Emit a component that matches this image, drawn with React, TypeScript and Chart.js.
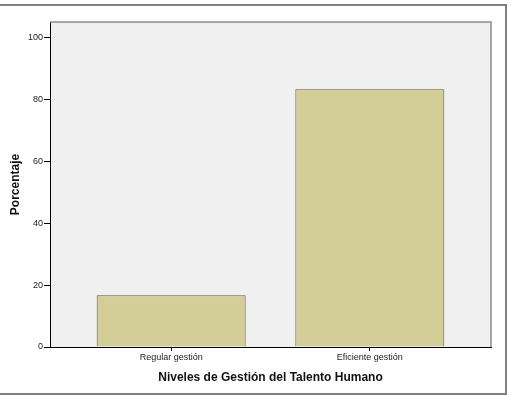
import React, { useEffect, useRef } from "react";
import { Chart, registerables } from "chart.js";

Chart.register(...registerables);

const categories = ["Regular gestión", "Eficiente gestión"];
const percentages = [16.7, 83.3];
const yTicks = [0, 20, 40, 60, 80, 100];
const xTitle = "Niveles de Gestión del Talento Humano";
const yTitle = "Porcentaje";

const FONT = "'Liberation Sans', Arial, sans-serif";

const framePlugin = {
  id: "frames",
  beforeDraw(chart: any) {
    const { ctx, chartArea } = chart;
    ctx.save();
    ctx.fillStyle = "#ffffff";
    ctx.fillRect(0, 0, chart.width, chart.height);
    ctx.fillStyle = "#f0f0f0";
    ctx.fillRect(chartArea.left, chartArea.top, chartArea.right - chartArea.left, chartArea.bottom - chartArea.top);
    // outer frame
    ctx.strokeStyle = "#808080";
    ctx.lineWidth = 2;
    ctx.strokeRect(-1, 5, 507, 389);
    ctx.restore();
  },
  afterDatasetsDraw(chart: any) {
    const { ctx, chartArea } = chart;
    ctx.save();
    ctx.strokeStyle = "#8c8c8c";
    ctx.lineWidth = 1.5;
    ctx.beginPath();
    ctx.moveTo(chartArea.left, chartArea.top);
    ctx.lineTo(chartArea.right, chartArea.top);
    ctx.lineTo(chartArea.right, chartArea.bottom);
    ctx.stroke();
    ctx.restore();
  },
};

export default function App() {
  const ref = useRef<HTMLCanvasElement>(null);

  useEffect(() => {
    if (!ref.current) return;
    const chart = new Chart(ref.current, {
      type: "bar",
      data: {
        datasets: [
          {
            data: categories.map((_, i) => ({ x: i, y: percentages[i] })),
            backgroundColor: "#d3ce98",
            borderColor: "#5a5946",
            borderWidth: 1,
            barPercentage: 0.75,
            categoryPercentage: 1,
          },
        ],
      },
      options: {
        responsive: false,
        animation: false,
        layout: { padding: { top: 22, right: 17, left: 0, bottom: 0 } },
        plugins: {
          legend: { display: false },
          tooltip: { enabled: false },
        },
        scales: {
          x: {
            type: "linear",
            offset: false,
            min: -0.61,
            max: 1.61,
            afterBuildTicks: (scale: any) => {
              scale.ticks = categories.map((_, i) => ({ value: i }));
            },
            afterFit: (scale: any) => {
              scale.height = 49;
            },
            grid: {
              display: true,
              offset: false,
              drawOnChartArea: false,
              drawTicks: true,
              tickLength: 4,
              color: "#000000",
            },
            border: { display: true, color: "#000000", width: 1 },
            ticks: {
              autoSkip: false,
              maxRotation: 0,
              padding: 1,
              color: "#222222",
              font: { family: FONT, size: 9 },
              callback: (v: any) => categories[v as number] ?? "",
            },
            title: {
              display: true,
              text: xTitle,
              color: "#111111",
              font: { family: FONT, size: 12, weight: "bold" },
              padding: { top: 0, bottom: 11 },
            },
          },
          y: {
            type: "linear",
            min: 0,
            max: 105,
            afterBuildTicks: (scale: any) => {
              scale.ticks = yTicks.map((v) => ({ value: v }));
            },
            afterFit: (scale: any) => {
              scale.width = 50;
            },
            grid: {
              display: true,
              drawOnChartArea: false,
              drawTicks: true,
              tickLength: 6,
              color: "#000000",
            },
            border: { display: true, color: "#000000", width: 1 },
            ticks: {
              padding: 1,
              color: "#222222",
              font: { family: FONT, size: 9 },
            },
            title: {
              display: true,
              text: yTitle,
              color: "#111111",
              font: { family: FONT, size: 12, weight: "bold" },
              padding: { top: 8, bottom: 0 },
            },
          },
        },
      },
      plugins: [framePlugin],
    });
    return () => chart.destroy();
  }, []);

  return (
    <div style={{ position: "fixed", left: 0, top: 0, width: 508, height: 396, background: "#fff" }}>
      <canvas ref={ref} width={508} height={396} style={{ display: "block" }} />
    </div>
  );
}
